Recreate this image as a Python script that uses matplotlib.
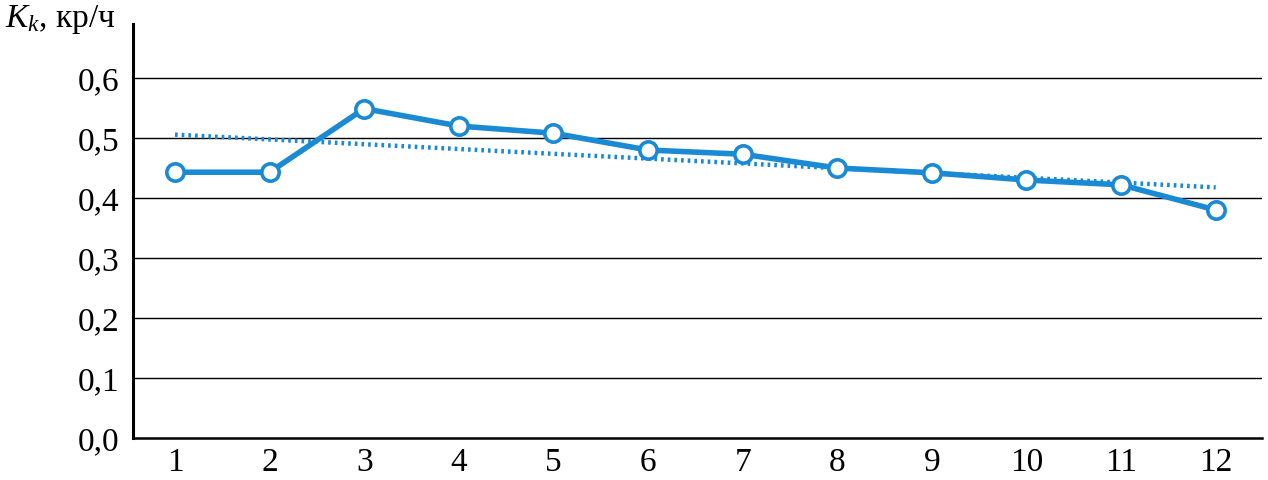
import matplotlib
matplotlib.use("Agg")
import matplotlib.pyplot as plt
import numpy as np

months = [1, 2, 3, 4, 5, 6, 7, 8, 9, 10, 11, 12]
kk = [0.443, 0.443, 0.549, 0.520, 0.508, 0.480, 0.473, 0.450, 0.442, 0.430, 0.422, 0.380]
yticks = [0.0, 0.1, 0.2, 0.3, 0.4, 0.5, 0.6]
ylabels = ["0,0", "0,1", "0,2", "0,3", "0,4", "0,5", "0,6"]

blue = "#1a8ad4"

plt.rcParams['font.family'] = ['Liberation Serif', 'DejaVu Serif']
plt.rcParams['mathtext.fontset'] = 'custom'
plt.rcParams['mathtext.rm'] = 'Liberation Serif'
plt.rcParams['mathtext.it'] = 'Liberation Serif:italic'

fig = plt.figure(figsize=(12.68, 4.81), dpi=100)
ax = fig.add_axes([0.1049, 0.0873, 0.8904, 0.8607])

for y in yticks[1:]:
    ax.axhline(y, color="black", lw=1.0, zorder=1)

# linear trend
coef = np.polyfit(months, kk, 1)
trend = np.polyval(coef, months)
ax.plot(months, trend, color=blue, lw=3.2, linestyle=(0, (0.6, 0.9)), zorder=2)

ax.plot(months, kk, color=blue, lw=4.0, marker="o", markersize=12.5,
        markerfacecolor="white", markeredgecolor=blue, markeredgewidth=2.6, zorder=3)

ax.set_xlim(0.556, 12.49)
ax.set_ylim(0, 0.69)
ax.set_xticks(months)
ax.set_xticklabels([str(m) for m in months])
ax.set_yticks(yticks)
ax.set_yticklabels(ylabels)
ax.tick_params(length=0, labelsize=24, pad=10)
ax.tick_params(axis="x", pad=6)

for s in ["top", "right"]:
    ax.spines[s].set_visible(False)
ax.spines["left"].set_linewidth(2.2)
ax.spines["bottom"].set_linewidth(1.8)

fig.text(0.004, 0.96, "$K_k$, кр/ч", fontsize=24, va="center", ha="left")

fig.savefig("out.png", dpi=100)
